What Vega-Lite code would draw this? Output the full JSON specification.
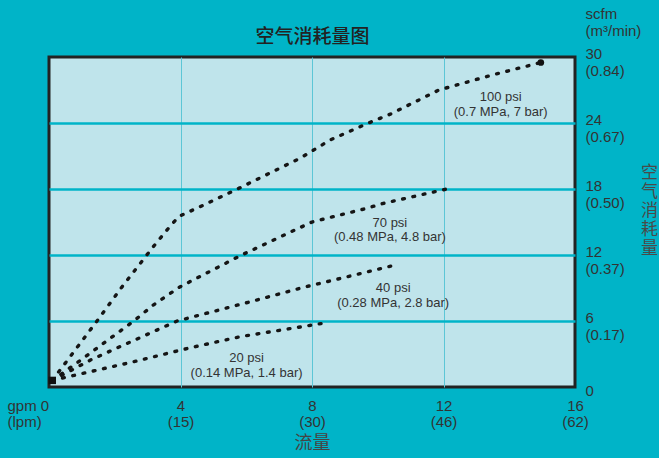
{
  "$schema": "https://vega.github.io/schema/vega-lite/v6.json",
  "width": 526,
  "height": 330,
  "autosize": "none",
  "padding": {"left": 49, "top": 57, "right": 84, "bottom": 71},
  "background": "#00B4C8",
  "config": {
    "font": "Liberation Sans",
    "view": {"fill": "#BFE4EB", "stroke": "#222222", "strokeWidth": 3}
  },
  "datasets": {
    "curves": [
      {"series": "100 psi", "x": 0.1, "y": 0.6},
      {"series": "100 psi", "x": 1.46, "y": 6},
      {"series": "100 psi", "x": 2.22, "y": 9.1},
      {"series": "100 psi", "x": 3.17, "y": 12.75},
      {"series": "100 psi", "x": 3.68, "y": 14.6},
      {"series": "100 psi", "x": 3.95, "y": 15.5},
      {"series": "100 psi", "x": 4.6, "y": 16.4},
      {"series": "100 psi", "x": 5.8, "y": 18.1},
      {"series": "100 psi", "x": 7.64, "y": 20.8},
      {"series": "100 psi", "x": 8.55, "y": 22.45},
      {"series": "100 psi", "x": 9.72, "y": 24},
      {"series": "100 psi", "x": 10.38, "y": 24.8},
      {"series": "100 psi", "x": 11.86, "y": 27},
      {"series": "100 psi", "x": 13.53, "y": 28.4},
      {"series": "100 psi", "x": 14.96, "y": 29.5},
      {"series": "70 psi", "x": 0.1, "y": 0.6},
      {"series": "70 psi", "x": 0.9, "y": 2.3},
      {"series": "70 psi", "x": 2.58, "y": 6},
      {"series": "70 psi", "x": 3.17, "y": 7.45},
      {"series": "70 psi", "x": 3.98, "y": 9.1},
      {"series": "70 psi", "x": 5.86, "y": 12},
      {"series": "70 psi", "x": 8.0, "y": 15.0},
      {"series": "70 psi", "x": 9.67, "y": 16.25},
      {"series": "70 psi", "x": 10.18, "y": 16.7},
      {"series": "70 psi", "x": 12.1, "y": 18.0},
      {"series": "40 psi", "x": 0.1, "y": 0.6},
      {"series": "40 psi", "x": 1.26, "y": 2.45},
      {"series": "40 psi", "x": 2.48, "y": 4.1},
      {"series": "40 psi", "x": 3.9, "y": 6.0},
      {"series": "40 psi", "x": 6.12, "y": 7.75},
      {"series": "40 psi", "x": 7.74, "y": 9.06},
      {"series": "40 psi", "x": 8.45, "y": 9.57},
      {"series": "40 psi", "x": 10.55, "y": 11.1},
      {"series": "20 psi", "x": 0.1, "y": 0.6},
      {"series": "20 psi", "x": 2.58, "y": 2.3},
      {"series": "20 psi", "x": 4.2, "y": 3.5},
      {"series": "20 psi", "x": 5.81, "y": 4.57},
      {"series": "20 psi", "x": 8.35, "y": 5.8}
    ],
    "markers": [
      {"kind": "origin", "x": 0.1, "y": 0.6},
      {"kind": "end", "x": 14.96, "y": 29.5}
    ],
    "notes": [
      {"text": "100 psi\n(0.7 MPa, 7 bar)", "x": 13.74, "y": 26.35},
      {"text": "70 psi\n(0.48 MPa, 4.8 bar)", "x": 10.37, "y": 14.95},
      {"text": "40 psi\n(0.28 MPa, 2.8 bar)", "x": 10.47, "y": 8.97},
      {"text": "20 psi\n(0.14 MPa, 1.4 bar)", "x": 6.01, "y": 2.6}
    ]
  },
  "layer": [
    {
      "data": {"name": "curves"},
      "mark": {"type": "line", "color": "#151515", "strokeWidth": 3.4, "strokeDash": [1.8, 8.7], "strokeCap": "round", "interpolate": "linear"},
      "encoding": {
        "x": {
          "field": "x", "type": "quantitative",
          "scale": {"domain": [0, 16], "nice": false, "zero": false},
          "axis": {
            "orient": "bottom",
            "values": [0, 4, 8, 12, 16],
            "labelExpr": "datum.value == 0 ? ['gpm 0', '(lpm)'] : [datum.label, datum.value == 4 ? '(15)' : datum.value == 8 ? '(30)' : datum.value == 12 ? '(46)' : '(62)']",
            "labelFlush": false,
            "labelOverlap": false,
            "labelFontSize": 15,
            "labelLineHeight": 16,
            "labelColor": "#333333",
            "labelPadding": 11,
            "labelBaseline": "top",
            "labelAlign": {"condition": {"test": "datum.value == 0", "value": "left"}, "value": "center"},
            "labelOffset": {"condition": {"test": "datum.value == 0", "value": -42}, "value": 0},
            "ticks": false,
            "tickSize": 0,
            "domain": false,
            "grid": true,
            "gridColor": "#5CC6D6",
            "gridWidth": 1,
            "gridOpacity": {"condition": {"test": "datum.value == 0 || datum.value == 16", "value": 0}, "value": 1},
            "title": "流量",
            "titleFont": "Noto Sans CJK SC",
            "titleFontSize": 18,
            "titleFontWeight": "normal",
            "titleColor": "#444444",
            "titleBaseline": "middle",
            "titleY": 56
          }
        },
        "y": {
          "field": "y", "type": "quantitative",
          "scale": {"domain": [0, 30], "nice": false, "zero": false},
          "axis": {
            "orient": "right",
            "values": [0, 6, 12, 18, 24, 30],
            "labelExpr": "datum.value == 0 ? '0' : [datum.label, datum.value == 30 ? '(0.84)' : datum.value == 24 ? '(0.67)' : datum.value == 18 ? '(0.50)' : datum.value == 12 ? '(0.37)' : '(0.17)']",
            "labelFontSize": 15,
            "labelLineHeight": 17,
            "labelColor": "#333333",
            "labelPadding": 10,
            "labelBaseline": "top",
            "labelAlign": "left",
            "labelOverlap": false,
            "labelFlush": false,
            "labelOffset": {"condition": {"test": "datum.value == 0", "value": -4}, "value": -11},
            "ticks": false,
            "tickSize": 0,
            "domain": false,
            "grid": true,
            "gridColor": "#00B4C8",
            "gridWidth": 2.6,
            "gridOpacity": {"condition": {"test": "datum.value == 0 || datum.value == 30", "value": 0}, "value": 1},
            "title": ["空", "气", "消", "耗", "量"],
            "titleAngle": 0,
            "titleAlign": "center",
            "titleBaseline": "top",
            "titleX": 74,
            "titleY": 107,
            "titleFont": "Noto Sans CJK SC",
            "titleFontSize": 17,
            "titleFontWeight": "normal",
            "titleColor": "#4a4a4a",
            "titleLineHeight": 19
          }
        },
        "detail": {"field": "series", "type": "nominal"}
      }
    },
    {
      "data": {"name": "markers"},
      "mark": {"type": "point", "filled": true, "color": "#111111", "opacity": 1},
      "encoding": {
        "x": {
          "field": "x", "type": "quantitative",
          "axis": {
            "orient": "top",
            "labels": false, "ticks": false, "domain": false, "grid": false,
            "title": "空气消耗量图",
            "titleFont": "Noto Sans CJK SC",
            "titleFontSize": 19,
            "titleFontWeight": 500,
            "titleColor": "#222222",
            "titleBaseline": "middle",
            "titleAnchor": "middle",
            "titleY": -21
          }
        },
        "y": {
          "field": "y", "type": "quantitative",
          "axis": {
            "orient": "left",
            "labels": false, "ticks": false, "domain": false, "grid": false,
            "title": ["scfm", "(m³/min)"],
            "titleAngle": 0,
            "titleAlign": "left",
            "titleBaseline": "alphabetic",
            "titleX": 536,
            "titleY": -39,
            "titleFontSize": 15,
            "titleFontWeight": "normal",
            "titleColor": "#333333",
            "titleLineHeight": 17
          }
        },
        "shape": {"field": "kind", "type": "nominal", "scale": {"domain": ["origin", "end"], "range": ["square", "circle"]}, "legend": null},
        "size": {"field": "kind", "type": "nominal", "scale": {"domain": ["origin", "end"], "range": [55, 45]}, "legend": null}
      }
    },
    {
      "data": {"name": "notes"},
      "mark": {"type": "text", "lineBreak": "\n", "fontSize": 13, "lineHeight": 14.5, "color": "#333333", "align": "center", "baseline": "middle"},
      "encoding": {
        "x": {"field": "x", "type": "quantitative", "axis": null},
        "y": {"field": "y", "type": "quantitative", "axis": null},
        "text": {"field": "text", "type": "nominal"}
      }
    }
  ],
  "resolve": {"axis": {"x": "independent", "y": "independent"}}
}
